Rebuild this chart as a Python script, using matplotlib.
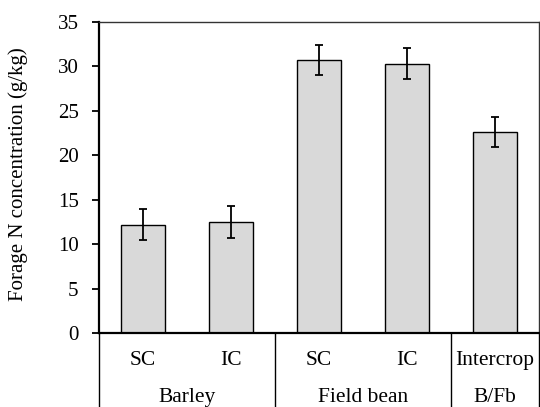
import matplotlib
matplotlib.use("Agg")
import matplotlib.pyplot as plt
import numpy as np

# forage N concentration per treatment
treatments = ["SC", "IC", "SC", "IC", "Intercrop"]
crops = ["Barley", "Field bean", "B/Fb"]
crop_spans = [(0, 1), (2, 3), (4, 4)]
n_conc = [12.2, 12.5, 30.7, 30.3, 22.6]
n_err = [1.75, 1.75, 1.72, 1.7, 1.72]

plt.rcParams["font.family"] = ["Liberation Serif", "DejaVu Serif"]
plt.rcParams["font.size"] = 15

fig = plt.figure(figsize=(5.4, 4.07), dpi=100)
ax = fig.add_axes([0.1828, 0.181, 0.8152, 0.7657])

x = np.arange(len(treatments))
ax.bar(x, n_conc, width=0.5, color="#d9d9d9", edgecolor="black", linewidth=1.0, zorder=2)
ax.errorbar(x, n_conc, yerr=n_err, fmt="none", ecolor="black", elinewidth=1.3,
            capsize=2.6, capthick=1.3, zorder=3)

ax.set_xlim(-0.5, len(treatments) - 0.5)
ax.set_ylim(0, 35)
ax.set_yticks(np.arange(0, 36, 5))
ax.set_xticks([])
ax.tick_params(axis="y", direction="out", length=5, width=1.3, pad=9.5, labelsize=15)
ax.set_ylabel("Forage N concentration (g/kg)", fontsize=15)
ax.yaxis.set_label_coords(-0.16, 0.51)

for side in ["left", "bottom"]:
    ax.spines[side].set_linewidth(1.6)
    ax.spines[side].set_color("black")
for side in ["top", "right"]:
    ax.spines[side].set_linewidth(1.0)
    ax.spines[side].set_color("#333333")

# two-level category axis below the plot
trans = ax.get_xaxis_transform()
for xi, lab in zip(x, treatments):
    ax.text(xi, -0.086, lab, transform=trans, ha="center", va="center", fontsize=15.5)
for (a, b), lab in zip(crop_spans, crops):
    ax.text((a + b) / 2, -0.207, lab, transform=trans, ha="center", va="center", fontsize=15.5)

seps = [-0.5, 1.5, 3.5, 4.5]
for s in seps:
    ax.plot([s, s], [0, -0.26], transform=trans, color="black", linewidth=1.0, clip_on=False)

fig.savefig("out.png", dpi=100)
